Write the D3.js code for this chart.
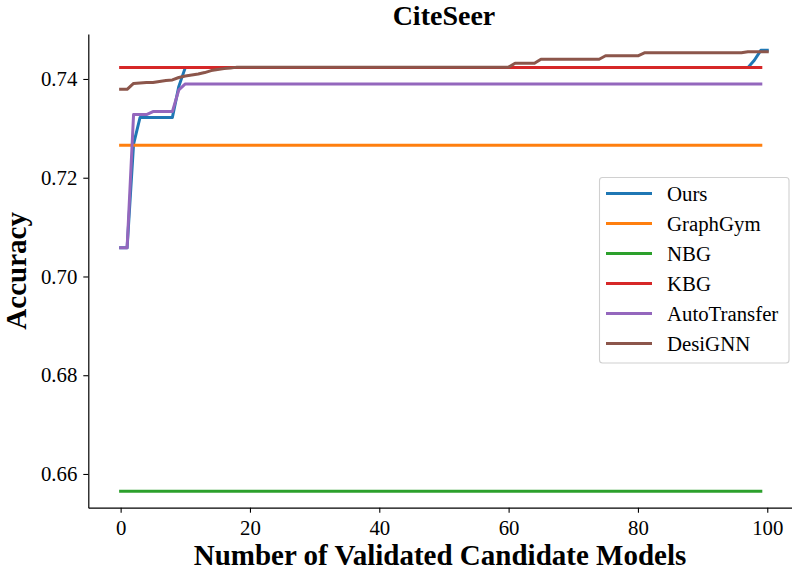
<!DOCTYPE html>
<html>
<head>
<meta charset="utf-8">
<script src="https://cdn.jsdelivr.net/npm/d3@7"></script>
<style>
  body { margin: 0; background: #fff; }
  svg { font-family: "Liberation Serif", "Times New Roman", serif; }
</style>
</head>
<body>
<svg width="792" height="572"></svg>
<script>
// accuracy of the best validated model after n candidates
const ours = [
  0.7058, 0.7058, 0.7268, 0.7322, 0.7322, 0.7322, 0.7322, 0.7322, 0.7322, 0.7385,
  0.7423, 0.7423, 0.7423, 0.7423, 0.7423, 0.7423, 0.7423, 0.7423, 0.7423, 0.7423,
  0.7423, 0.7423, 0.7423, 0.7423, 0.7423, 0.7423, 0.7423, 0.7423, 0.7423, 0.7423,
  0.7423, 0.7423, 0.7423, 0.7423, 0.7423, 0.7423, 0.7423, 0.7423, 0.7423, 0.7423,
  0.7423, 0.7423, 0.7423, 0.7423, 0.7423, 0.7423, 0.7423, 0.7423, 0.7423, 0.7423,
  0.7423, 0.7423, 0.7423, 0.7423, 0.7423, 0.7423, 0.7423, 0.7423, 0.7423, 0.7423,
  0.7423, 0.7423, 0.7423, 0.7423, 0.7423, 0.7423, 0.7423, 0.7423, 0.7423, 0.7423,
  0.7423, 0.7423, 0.7423, 0.7423, 0.7423, 0.7423, 0.7423, 0.7423, 0.7423, 0.7423,
  0.7423, 0.7423, 0.7423, 0.7423, 0.7423, 0.7423, 0.7423, 0.7423, 0.7423, 0.7423,
  0.7423, 0.7423, 0.7423, 0.7423, 0.7423, 0.7423, 0.7423, 0.7423, 0.7438, 0.7458,
  0.7458
];

const graphGym = [
  0.7266, 0.7266, 0.7266, 0.7266, 0.7266, 0.7266, 0.7266, 0.7266, 0.7266, 0.7266,
  0.7266, 0.7266, 0.7266, 0.7266, 0.7266, 0.7266, 0.7266, 0.7266, 0.7266, 0.7266,
  0.7266, 0.7266, 0.7266, 0.7266, 0.7266, 0.7266, 0.7266, 0.7266, 0.7266, 0.7266,
  0.7266, 0.7266, 0.7266, 0.7266, 0.7266, 0.7266, 0.7266, 0.7266, 0.7266, 0.7266,
  0.7266, 0.7266, 0.7266, 0.7266, 0.7266, 0.7266, 0.7266, 0.7266, 0.7266, 0.7266,
  0.7266, 0.7266, 0.7266, 0.7266, 0.7266, 0.7266, 0.7266, 0.7266, 0.7266, 0.7266,
  0.7266, 0.7266, 0.7266, 0.7266, 0.7266, 0.7266, 0.7266, 0.7266, 0.7266, 0.7266,
  0.7266, 0.7266, 0.7266, 0.7266, 0.7266, 0.7266, 0.7266, 0.7266, 0.7266, 0.7266,
  0.7266, 0.7266, 0.7266, 0.7266, 0.7266, 0.7266, 0.7266, 0.7266, 0.7266, 0.7266,
  0.7266, 0.7266, 0.7266, 0.7266, 0.7266, 0.7266, 0.7266, 0.7266, 0.7266, 0.7266
];

const nbg = [
  0.6565, 0.6565, 0.6565, 0.6565, 0.6565, 0.6565, 0.6565, 0.6565, 0.6565, 0.6565,
  0.6565, 0.6565, 0.6565, 0.6565, 0.6565, 0.6565, 0.6565, 0.6565, 0.6565, 0.6565,
  0.6565, 0.6565, 0.6565, 0.6565, 0.6565, 0.6565, 0.6565, 0.6565, 0.6565, 0.6565,
  0.6565, 0.6565, 0.6565, 0.6565, 0.6565, 0.6565, 0.6565, 0.6565, 0.6565, 0.6565,
  0.6565, 0.6565, 0.6565, 0.6565, 0.6565, 0.6565, 0.6565, 0.6565, 0.6565, 0.6565,
  0.6565, 0.6565, 0.6565, 0.6565, 0.6565, 0.6565, 0.6565, 0.6565, 0.6565, 0.6565,
  0.6565, 0.6565, 0.6565, 0.6565, 0.6565, 0.6565, 0.6565, 0.6565, 0.6565, 0.6565,
  0.6565, 0.6565, 0.6565, 0.6565, 0.6565, 0.6565, 0.6565, 0.6565, 0.6565, 0.6565,
  0.6565, 0.6565, 0.6565, 0.6565, 0.6565, 0.6565, 0.6565, 0.6565, 0.6565, 0.6565,
  0.6565, 0.6565, 0.6565, 0.6565, 0.6565, 0.6565, 0.6565, 0.6565, 0.6565, 0.6565
];

const kbg = [
  0.7423, 0.7423, 0.7423, 0.7423, 0.7423, 0.7423, 0.7423, 0.7423, 0.7423, 0.7423,
  0.7423, 0.7423, 0.7423, 0.7423, 0.7423, 0.7423, 0.7423, 0.7423, 0.7423, 0.7423,
  0.7423, 0.7423, 0.7423, 0.7423, 0.7423, 0.7423, 0.7423, 0.7423, 0.7423, 0.7423,
  0.7423, 0.7423, 0.7423, 0.7423, 0.7423, 0.7423, 0.7423, 0.7423, 0.7423, 0.7423,
  0.7423, 0.7423, 0.7423, 0.7423, 0.7423, 0.7423, 0.7423, 0.7423, 0.7423, 0.7423,
  0.7423, 0.7423, 0.7423, 0.7423, 0.7423, 0.7423, 0.7423, 0.7423, 0.7423, 0.7423,
  0.7423, 0.7423, 0.7423, 0.7423, 0.7423, 0.7423, 0.7423, 0.7423, 0.7423, 0.7423,
  0.7423, 0.7423, 0.7423, 0.7423, 0.7423, 0.7423, 0.7423, 0.7423, 0.7423, 0.7423,
  0.7423, 0.7423, 0.7423, 0.7423, 0.7423, 0.7423, 0.7423, 0.7423, 0.7423, 0.7423,
  0.7423, 0.7423, 0.7423, 0.7423, 0.7423, 0.7423, 0.7423, 0.7423, 0.7423, 0.7423
];

const autoTransfer = [
  0.7058, 0.7058, 0.7328, 0.7328, 0.7328, 0.7334, 0.7334, 0.7334, 0.7334, 0.7378,
  0.7390, 0.7390, 0.7390, 0.7390, 0.7390, 0.7390, 0.7390, 0.7390, 0.7390, 0.7390,
  0.7390, 0.7390, 0.7390, 0.7390, 0.7390, 0.7390, 0.7390, 0.7390, 0.7390, 0.7390,
  0.7390, 0.7390, 0.7390, 0.7390, 0.7390, 0.7390, 0.7390, 0.7390, 0.7390, 0.7390,
  0.7390, 0.7390, 0.7390, 0.7390, 0.7390, 0.7390, 0.7390, 0.7390, 0.7390, 0.7390,
  0.7390, 0.7390, 0.7390, 0.7390, 0.7390, 0.7390, 0.7390, 0.7390, 0.7390, 0.7390,
  0.7390, 0.7390, 0.7390, 0.7390, 0.7390, 0.7390, 0.7390, 0.7390, 0.7390, 0.7390,
  0.7390, 0.7390, 0.7390, 0.7390, 0.7390, 0.7390, 0.7390, 0.7390, 0.7390, 0.7390,
  0.7390, 0.7390, 0.7390, 0.7390, 0.7390, 0.7390, 0.7390, 0.7390, 0.7390, 0.7390,
  0.7390, 0.7390, 0.7390, 0.7390, 0.7390, 0.7390, 0.7390, 0.7390, 0.7390, 0.7390
];

const desiGNN = [
  0.7379, 0.7379, 0.7391, 0.7392, 0.7393, 0.7393, 0.7395, 0.7397, 0.7398, 0.7403,
  0.7406, 0.7408, 0.7410, 0.7413, 0.7417, 0.7419, 0.7421, 0.7422, 0.7424, 0.7424,
  0.7424, 0.7424, 0.7424, 0.7424, 0.7424, 0.7424, 0.7424, 0.7424, 0.7424, 0.7424,
  0.7424, 0.7424, 0.7424, 0.7424, 0.7424, 0.7424, 0.7424, 0.7424, 0.7424, 0.7424,
  0.7424, 0.7424, 0.7424, 0.7424, 0.7424, 0.7424, 0.7424, 0.7424, 0.7424, 0.7424,
  0.7424, 0.7424, 0.7424, 0.7424, 0.7424, 0.7424, 0.7424, 0.7424, 0.7424, 0.7424,
  0.7424, 0.7432, 0.7432, 0.7432, 0.7432, 0.7440, 0.7440, 0.7440, 0.7440, 0.7440,
  0.7440, 0.7440, 0.7440, 0.7440, 0.7440, 0.7447, 0.7447, 0.7447, 0.7447, 0.7447,
  0.7447, 0.7453, 0.7453, 0.7453, 0.7453, 0.7453, 0.7453, 0.7453, 0.7453, 0.7453,
  0.7453, 0.7453, 0.7453, 0.7453, 0.7453, 0.7453, 0.7453, 0.7455, 0.7455, 0.7455,
  0.7455
];

const seriesNames = ["Ours", "GraphGym", "NBG", "KBG", "AutoTransfer", "DesiGNN"];
const seriesValues = [ours, graphGym, nbg, kbg, autoTransfer, desiGNN];
const colors = ["#1f77b4", "#ff7f0e", "#2ca02c", "#d62728", "#9467bd", "#8c564b"];
const xTicks = [0, 20, 40, 60, 80, 100];
const yTicks = [0.66, 0.68, 0.70, 0.72, 0.74];

const svg = d3.select("svg");

// axes box (right part runs a little past the picture edge, like the original)
const plotLeft = 88.3, plotRight = 799.6, plotTop = 34, plotBottom = 507.7;

const x = d3.scaleLinear().domain([-5, 105]).range([plotLeft, plotRight]);
const y = d3.scaleLinear().domain([0.65317, 0.74911]).range([plotBottom, plotTop]);

// x axis
const xAxis = svg.append("g")
  .attr("transform", `translate(0,${plotBottom})`)
  .call(d3.axisBottom(x).tickValues(xTicks).tickSize(5).tickSizeOuter(0).tickPadding(8));

// y axis
const yAxis = svg.append("g")
  .attr("transform", `translate(${plotLeft},0)`)
  .call(d3.axisLeft(y).tickValues(yTicks).tickFormat(d3.format(".2f")).tickSize(5).tickSizeOuter(0).tickPadding(6));

[xAxis, yAxis].forEach(g => {
  g.selectAll("text")
    .attr("font-family", "Liberation Serif")
    .attr("font-size", "20.8px")
    .attr("fill", "#000");
  g.selectAll("line").attr("stroke", "#000").attr("stroke-width", 1.1);
  g.select(".domain").attr("stroke", "#000").attr("stroke-width", 1.2);
});

// the lines, in the same drawing order as the legend
const line = d3.line()
  .x((d, i) => x(i))
  .y(d => y(d));

seriesValues.forEach((vals, k) => {
  svg.append("path")
    .datum(vals)
    .attr("fill", "none")
    .attr("stroke", colors[k])
    .attr("stroke-width", 3)
    .attr("stroke-linecap", "square")
    .attr("stroke-linejoin", "round")
    .attr("d", line);
});

// title and labels
svg.append("text")
  .attr("x", (plotLeft + plotRight) / 2)
  .attr("y", 25)
  .attr("text-anchor", "middle")
  .attr("font-size", "28px")
  .attr("font-weight", "bold")
  .text("CiteSeer");

svg.append("text")
  .attr("x", 440)
  .attr("y", 565)
  .attr("text-anchor", "middle")
  .attr("font-size", "29px")
  .attr("font-weight", "bold")
  .text("Number of Validated Candidate Models");

svg.append("text")
  .attr("transform", `translate(26,${(plotTop + plotBottom) / 2}) rotate(-90)`)
  .attr("text-anchor", "middle")
  .attr("font-size", "29px")
  .attr("font-weight", "bold")
  .text("Accuracy");

// legend
const legend = svg.append("g");
legend.append("rect")
  .attr("x", 599.5)
  .attr("y", 177.5)
  .attr("width", 189.5)
  .attr("height", 185.5)
  .attr("rx", 3)
  .attr("fill", "#fff")
  .attr("fill-opacity", 0.8)
  .attr("stroke", "#d0d0d0")
  .attr("stroke-width", 1.1);

seriesNames.forEach((name, k) => {
  const ly = 193.5 + k * 30;
  legend.append("line")
    .attr("x1", 606).attr("x2", 652)
    .attr("y1", ly).attr("y2", ly)
    .attr("stroke", colors[k])
    .attr("stroke-width", 3);
  legend.append("text")
    .attr("x", 667)
    .attr("y", ly)
    .attr("dy", "0.35em")
    .attr("font-size", "20.8px")
    .text(name);
});
</script>
</body>
</html>
